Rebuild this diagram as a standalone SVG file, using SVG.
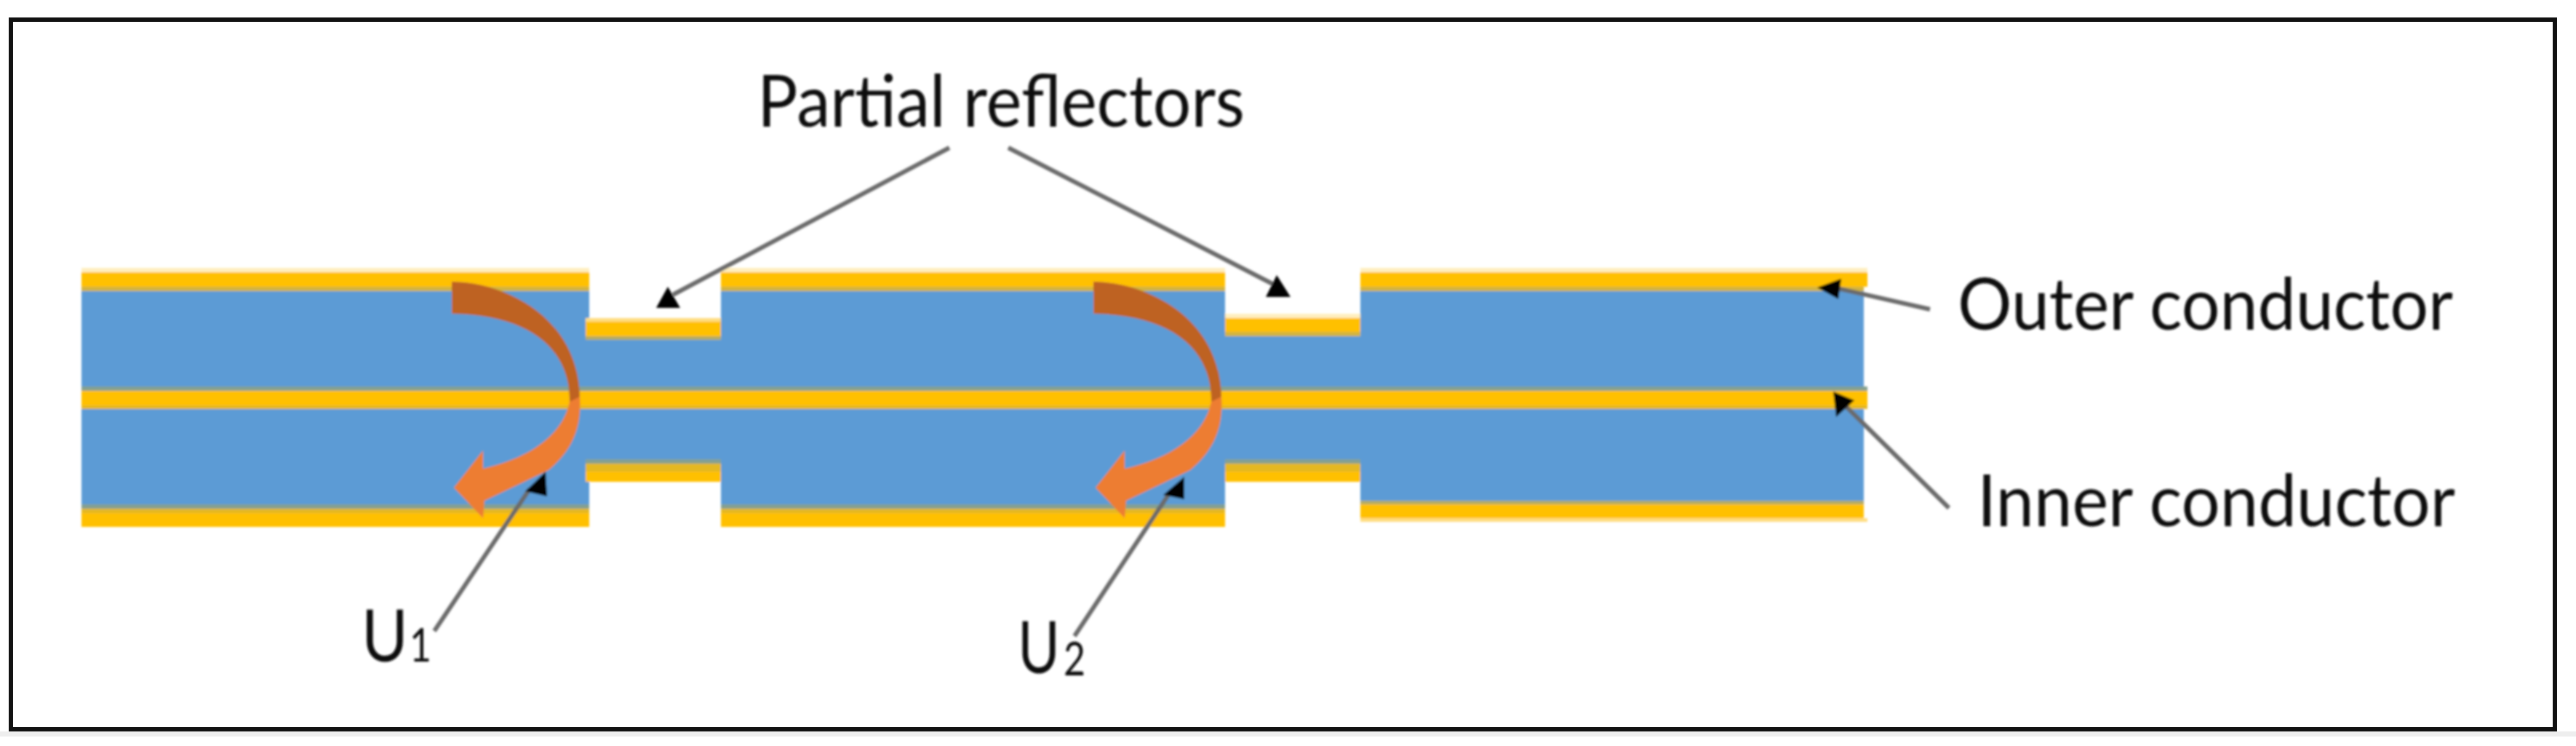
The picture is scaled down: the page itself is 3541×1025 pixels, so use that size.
<svg xmlns="http://www.w3.org/2000/svg" width="3541" height="1025" viewBox="0 0 3541 1025">
<style>
.blue{fill:#5B9BD5}.y{fill:#FFC000}.ol{fill:#D2B43C}.ol2{fill:#B4AC64}.gr{fill:#84A090}.go{fill:#E4B824}.fr{fill:#FFEFC0}.fr2{fill:#FFDD80}
.lead{stroke:#6A6A6A;stroke-width:6;fill:none}
.head{fill:#000}
text{font-family:Lato,"Liberation Sans",sans-serif;fill:#111;font-size:98px}
.sub{font-size:64px}
</style>
<defs>
<filter id="soft" x="-2%" y="-5%" width="104%" height="110%"><feGaussianBlur stdDeviation="1.4"/></filter>
<g id="bend">
<path d="M621 387C700 388 797 440 797 548L783 556C785 480 730 433 621 431Z" fill="#BE6224"/>
<path d="M783 552L797 545C800 590 785 620 754 646L666 688L664 712L624 670L664 619L664 644C725 630 773 600 783 552Z" fill="#ED7D31"/>
</g>
</defs>
<rect width="3541" height="1025" fill="#fff"/>
<rect x="0" y="1005" width="3541" height="7" fill="#EEE"/>
<rect id="frame" x="15" y="27" width="3497" height="975" fill="#fff" stroke="#111" stroke-width="6"/>
<g filter="url(#soft)">
<g id="dielectric">
<path class="blue" d="M112 399H810V467H991V399H1684V462H1870V399H2562V688H1870V631H1684V693H991V631H810V693H112Z"/>
</g>
<g id="inner-conductor">
<rect class="gr" x="112" y="531" width="2455" height="6"/>
<rect class="y" x="112" y="537" width="2455" height="20"/>
<rect class="go" x="112" y="557" width="2455" height="5"/>
</g>
<g id="outer-conductor">
<rect class="fr" x="112" y="368" width="698" height="6"/><rect class="y" x="112" y="374" width="698" height="20"/><rect class="ol" x="112" y="394" width="698" height="6"/>
<rect class="fr" x="991" y="368" width="693" height="6"/><rect class="y" x="991" y="374" width="693" height="20"/><rect class="ol" x="991" y="394" width="693" height="6"/>
<rect class="fr" x="1870" y="368" width="697" height="6"/><rect class="y" x="1870" y="374" width="697" height="20"/><rect class="ol" x="1870" y="394" width="692" height="6"/>
<rect class="fr2" x="805" y="437" width="186" height="5"/><rect class="y" x="805" y="442" width="186" height="20"/><rect class="ol2" x="805" y="462" width="186" height="5"/>
<rect class="fr" x="1684" y="431" width="186" height="6"/><rect class="y" x="1684" y="437" width="186" height="19"/><rect class="ol" x="1684" y="456" width="186" height="6"/>
<rect class="gr" x="112" y="693" width="698" height="6"/><rect class="go" x="112" y="699" width="698" height="6"/><rect class="y" x="112" y="705" width="698" height="19"/>
<rect class="gr" x="991" y="693" width="693" height="6"/><rect class="go" x="991" y="699" width="693" height="6"/><rect class="y" x="991" y="705" width="693" height="19"/>
<rect class="gr" x="805" y="631" width="186" height="6"/><rect class="go" x="805" y="637" width="186" height="11"/><rect class="y" x="805" y="648" width="186" height="14"/>
<rect class="gr" x="1684" y="631" width="186" height="6"/><rect class="go" x="1684" y="637" width="186" height="11"/><rect class="y" x="1684" y="648" width="186" height="14"/>
<rect class="ol2" x="1870" y="688" width="692" height="5"/><rect class="y" x="1870" y="693" width="692" height="19"/><rect class="fr2" x="1870" y="712" width="697" height="5"/>
</g>
<g id="reflection-1"><use href="#bend"/></g>
<g id="reflection-2"><use href="#bend" x="882"/></g>
<g id="connectors">
<path class="lead" d="M1305 203L925 405"/>
<polygon class="head" points="918,394 902,423 935,423"/>
<path class="lead" d="M1386 203L1755 393"/>
<polygon class="head" points="1755,378 1740,408 1774,408"/>
<path class="lead" d="M597 867L728 672"/>
<polygon class="head" points="750,648 722,675 752,682"/>
<path class="lead" d="M1477 874L1606 680"/>
<polygon class="head" points="1628,655 1599,680 1628,686"/>
<path class="lead" d="M2653 425L2525 396"/>
<polygon class="head" points="2498,395 2531,383 2527,411"/>
<path class="lead" d="M2679 698L2535 556"/>
<polygon class="head" points="2520,538 2549,550 2524,573"/>
</g>
</g>
<g id="labels" filter="url(#soft)">
<text x="1041" y="174" textLength="670" lengthAdjust="spacingAndGlyphs">Partial reflectors</text>
<text x="2691" y="453" textLength="681" lengthAdjust="spacingAndGlyphs">Outer conductor</text>
<text x="2718" y="723" textLength="657" lengthAdjust="spacingAndGlyphs">Inner conductor</text>
<text x="497" y="909" textLength="64" lengthAdjust="spacingAndGlyphs">U</text>
<text class="sub" x="563" y="909" textLength="30" lengthAdjust="spacingAndGlyphs">1</text>
<text x="1399" y="925" textLength="58" lengthAdjust="spacingAndGlyphs">U</text>
<text class="sub" x="1462" y="928" textLength="30" lengthAdjust="spacingAndGlyphs">2</text>
</g>
</svg>
